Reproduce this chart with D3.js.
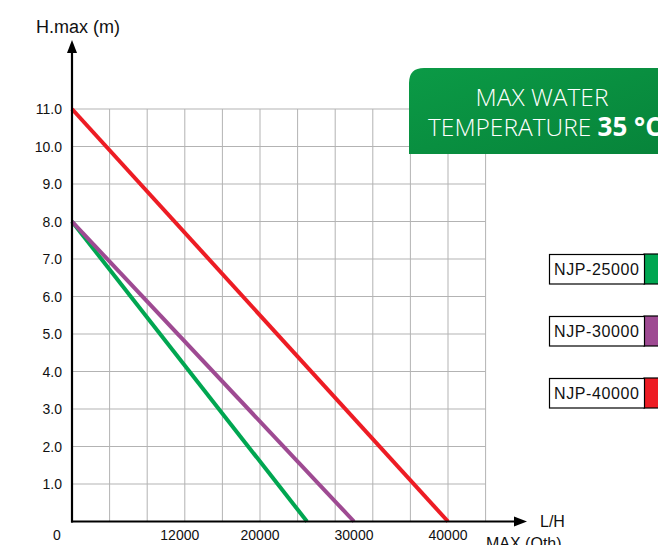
<!DOCTYPE html>
<html><head><meta charset="utf-8">
<script src="https://cdn.jsdelivr.net/npm/d3@7"></script>
<style>html,body{margin:0;padding:0;background:#fff;overflow:hidden}</style>
</head><body>
<svg id="c" width="658" height="545"></svg>
<script>
const series = ["NJP-25000", "NJP-30000", "NJP-40000"];
const colors = ["#00a651", "#9e4a92", "#ed1c24"];
const headMax = [8, 8, 11];          // m at zero flow
const flowMax = [25000, 30000, 40000]; // L/H at zero head
const yTicks = [1,2,3,4,5,6,7,8,9,10,11];
const xTickLabels = [12000, 20000, 30000, 40000];
const xGrid = d3.range(4000, 44001, 4000);

const svg = d3.select("#c");
const x = d3.scaleLinear().domain([0, 40000]).range([72, 448]);
const y = d3.scaleLinear().domain([0, 11]).range([521.5, 109]);
const font = "'Liberation Sans', Arial, sans-serif";

// grid
svg.append("g").selectAll("line").data(xGrid).join("line")
  .attr("x1", d => x(d)).attr("x2", d => x(d)).attr("y1", y(0)).attr("y2", y(11))
  .attr("stroke", "#b3b3b3").attr("stroke-width", 1);
svg.append("g").selectAll("line").data(yTicks).join("line")
  .attr("x1", x(0)).attr("x2", x(44000)).attr("y1", d => y(d)).attr("y2", d => y(d))
  .attr("stroke", "#b3b3b3").attr("stroke-width", 1);

// y labels
svg.append("g").selectAll("text").data(yTicks).join("text")
  .attr("x", 62).attr("y", d => y(d) + 5).attr("text-anchor", "end")
  .attr("font-family", font).attr("font-size", 14).attr("fill", "#111")
  .text(d => d.toFixed(1));
svg.append("text").attr("x", 57).attr("y", 540).attr("text-anchor", "middle")
  .attr("font-family", font).attr("font-size", 14).attr("fill", "#111").text("0");
// x labels
svg.append("g").selectAll("text").data(xTickLabels).join("text")
  .attr("x", d => x(d) - (d === 12000 ? 5 : 0)).attr("y", 540).attr("text-anchor", "middle")
  .attr("font-family", font).attr("font-size", 14).attr("fill", "#111")
  .text(d => d);

// lines
const line = d3.line().x(d => x(d[0])).y(d => y(d[1]));
svg.append("g").selectAll("path").data(series).join("path")
  .attr("d", (s, i) => line([[0, headMax[i]], [flowMax[i], 0]]))
  .attr("stroke", (s, i) => colors[i]).attr("stroke-width", 4).attr("fill", "none");

// axes
svg.append("line").attr("x1", x(0)).attr("x2", x(0)).attr("y1", y(0) + 1).attr("y2", 50)
  .attr("stroke", "#000").attr("stroke-width", 2.2);
svg.append("path").attr("d", `M${x(0)},40 L${x(0)-5},53 L${x(0)+5},53 Z`).attr("fill", "#000");
svg.append("line").attr("x1", x(0) - 1).attr("x2", 515).attr("y1", y(0)).attr("y2", y(0))
  .attr("stroke", "#000").attr("stroke-width", 2.2);
svg.append("path").attr("d", `M527,${y(0)} L514,${y(0)-5} L514,${y(0)+5} Z`).attr("fill", "#000");

svg.append("text").attr("x", 36).attr("y", 33).attr("font-family", font).attr("font-size", 18)
  .attr("fill", "#111").text("H.max (m)");
svg.append("text").attr("x", 540).attr("y", 527).attr("font-family", font).attr("font-size", 16)
  .attr("fill", "#111").text("L/H");
svg.append("text").attr("x", 486).attr("y", 548.5).attr("font-family", font).attr("font-size", 16)
  .attr("fill", "#111").text("MAX (Qth)");

// banner
const defs = svg.append("defs");
const g = defs.append("linearGradient").attr("id", "gb").attr("x1", "0").attr("y1", "0").attr("x2", "1").attr("y2", "1");
g.append("stop").attr("offset", "0").attr("stop-color", "#0b9a46");
g.append("stop").attr("offset", "1").attr("stop-color", "#07843a");
svg.append("path")
  .attr("d", "M409,154 L409,83 Q409,68 424,68 L660,68 L660,154 Z")
  .attr("fill", "url(#gb)");
const bf = "'Open Sans', Lato, sans-serif";
svg.append("text").attr("x", 542).attr("y", 106).attr("text-anchor", "middle")
  .attr("font-family", bf).attr("font-weight", 300).attr("font-size", 24.5).attr("fill", "#fff")
  .text("MAX WATER");
const t2 = svg.append("text").attr("x", 428).attr("y", 136)
  .attr("font-family", bf).attr("fill", "#fff");
t2.append("tspan").attr("font-weight", 300).attr("font-size", 24.5).text("TEMPERATURE ");
t2.append("tspan").attr("font-weight", 700).attr("font-size", 26).text("35 °C");

// legend
const lg = svg.append("g").selectAll("g").data(series).join("g")
  .attr("transform", (s, i) => `translate(549,${254 + i * 62})`);
lg.append("rect").attr("x", 95).attr("y", 0).attr("width", 20).attr("height", 30)
  .attr("fill", (s, i) => colors[i]).attr("stroke", "#000").attr("stroke-width", 1.2);
lg.append("rect").attr("x", 0.5).attr("y", 0.5).attr("width", 95).attr("height", 29.5)
  .attr("fill", "#fff").attr("stroke", "#000").attr("stroke-width", 1.2);
lg.append("text").attr("x", 5).attr("y", 21).attr("font-family", font).attr("font-size", 16)
  .attr("fill", "#111").attr("textLength", 85).text(s => s);
</script>
</body></html>
